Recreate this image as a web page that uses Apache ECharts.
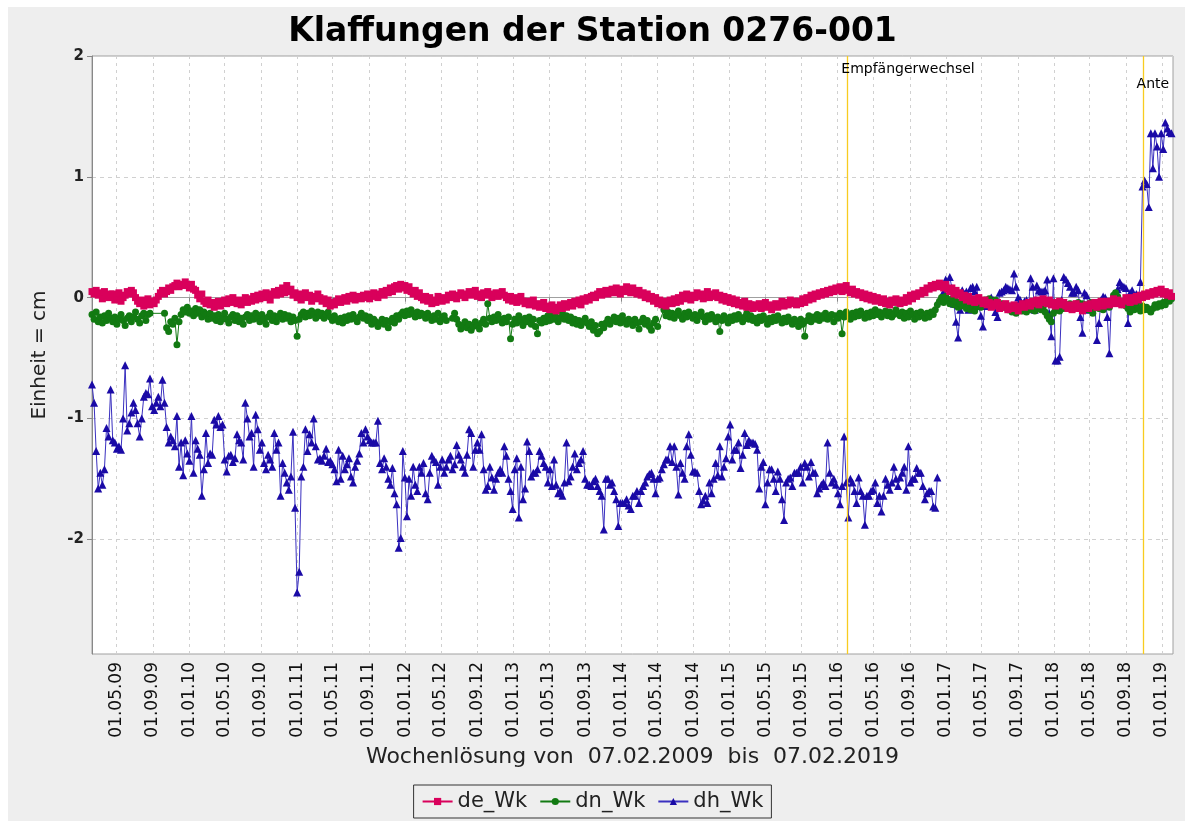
<!DOCTYPE html>
<html>
<head>
<meta charset="utf-8">
<title>Klaffungen der Station 0276-001</title>
<script src="https://cdn.jsdelivr.net/npm/echarts@6/dist/echarts.min.js"></script>
<style>
html, body { margin: 0; padding: 0; background: #ffffff; }
#chart {
  width: 1185px;
  height: 821px;
  background: linear-gradient(#eeeeee, #eeeeee) no-repeat 8px 7px / 1177px 814px, #ffffff;
}
</style>
</head>
<body>
<div id="chart"></div>
<script>
// Zeitraum der Wochenlösungen (ein Wert pro Woche)
const startDate = '2009-02-07'
const endDate = '2019-02-07'

// Ost-Komponente
const deWk = [
  0.05, 0.03, 0.06, 0.02, 0.04, -0.01, 0.05, 0.02, 0.0, 0.03,
  0.03, -0.02, 0.01, 0.04, -0.03, 0.0, 0.02, 0.05, 0.03, 0.06,
  0.04, 0.0, -0.03, -0.05, -0.02, -0.07, -0.04, -0.01, -0.06, -0.03,
  -0.05, -0.02, 0.01, 0.04, 0.06, 0.03, 0.05, 0.08, 0.06, 0.09,
  0.1, 0.12, 0.09, 0.11, 0.1, 0.13, 0.1, 0.08, 0.11, 0.07,
  0.06, 0.02, -0.01, 0.03, -0.03, -0.05, -0.02, -0.06, -0.04, -0.08,
  -0.05, -0.03, -0.07, -0.04, -0.02, -0.05, -0.01, -0.04, 0.0, -0.03,
  -0.05, -0.02, -0.06, -0.03, 0.0, -0.04, -0.01, -0.03, 0.01, -0.02,
  0.02, -0.01, 0.03, 0.0, 0.04, 0.01, -0.02, 0.03, 0.05, 0.02,
  0.06, 0.03, 0.08, 0.04, 0.1, 0.05, 0.07, 0.02, 0.04, 0.0,
  0.03, -0.02, 0.01, 0.04, 0.0, 0.02, -0.03, 0.01, -0.01, 0.03,
  0.0, -0.03, -0.01, -0.05, -0.02, -0.07, -0.04, -0.06, -0.03, -0.01,
  -0.04, -0.02, 0.0, -0.03, 0.01, -0.01, 0.02, -0.02, 0.0, 0.01,
  -0.01, 0.02, 0.0, 0.03, -0.01, 0.01, 0.04, 0.02, 0.0, 0.03,
  0.05, 0.02, 0.06, 0.04, 0.08, 0.05, 0.09, 0.1, 0.07, 0.11,
  0.08, 0.1, 0.06, 0.09, 0.05, 0.03, 0.06, 0.01, 0.04, 0.0,
  -0.02, 0.01, -0.03, 0.0, -0.05, -0.02, -0.04, 0.01, -0.01, -0.03,
  0.0, -0.02, 0.02, 0.0, 0.03, 0.01, -0.01, 0.02, 0.04, 0.02,
  0.0, 0.03, 0.05, 0.02, 0.04, 0.06, 0.01, 0.03, 0.0, 0.04,
  0.02, 0.05, 0.03, 0.0, 0.02, 0.04, 0.01, 0.03, 0.05, 0.02,
  0.0, -0.02, 0.01, -0.03, 0.0, -0.04, -0.02, 0.01, -0.03, -0.05,
  -0.03, -0.06, -0.04, -0.02, -0.07, -0.05, -0.08, -0.06, -0.04, -0.09,
  -0.07, -0.1, -0.06, -0.09, -0.11, -0.08, -0.06, -0.09, -0.05, -0.08,
  -0.06, -0.04, -0.07, -0.03, -0.05, -0.02, -0.06, -0.01, -0.03, 0.0,
  -0.02, 0.01, 0.02, 0.0, 0.03, 0.05, 0.02, 0.04, 0.06, 0.03,
  0.05, 0.07, 0.04, 0.08, 0.06, 0.03, 0.07, 0.05, 0.09, 0.06,
  0.04, 0.08, 0.05, 0.03, 0.06, 0.02, 0.04, 0.0, 0.03, -0.01,
  0.01, -0.03, 0.0, -0.05, -0.02, -0.06, -0.03, -0.07, -0.04, -0.02,
  -0.05, -0.01, -0.04, 0.0, -0.03, 0.02, -0.01, 0.03, 0.01, -0.02,
  0.02, 0.0, 0.04, 0.01, 0.03, -0.01, 0.02, 0.05, 0.0, 0.03,
  0.01, 0.04, 0.0, 0.02, -0.02, 0.01, -0.03, 0.0, -0.04, -0.01,
  -0.05, -0.02, -0.06, -0.04, -0.07, -0.03, -0.08, -0.05, -0.06, -0.09,
  -0.06, -0.08, -0.05, -0.09, -0.07, -0.04, -0.08, -0.06, -0.1, -0.07,
  -0.05, -0.08, -0.06, -0.03, -0.07, -0.04, -0.06, -0.02, -0.05, -0.03,
  -0.06, -0.03, -0.05, -0.01, -0.04, 0.0, -0.02, 0.02, -0.01, 0.03,
  0.01, 0.04, 0.02, 0.05, 0.03, 0.06, 0.04, 0.07, 0.05, 0.08,
  0.06, 0.09, 0.05, 0.08, 0.1, 0.06, 0.04, 0.07, 0.03, 0.05,
  0.02, 0.04, 0.0, 0.03, -0.01, 0.02, -0.02, 0.01, -0.03, 0.0,
  -0.02, -0.04, -0.01, -0.05, -0.03, -0.06, -0.02, -0.04, -0.01, -0.03,
  -0.05, -0.02, -0.04, 0.0, -0.03, 0.02, -0.01, 0.03, 0.01, 0.04,
  0.03, 0.06, 0.04, 0.08, 0.07, 0.1, 0.08, 0.11, 0.09, 0.12,
  0.1, 0.08, 0.11, 0.07, 0.05, 0.08, 0.03, 0.06, 0.02, 0.04,
  0.0, 0.02, -0.02, 0.01, -0.03, -0.01, -0.04, -0.02, 0.0, -0.03,
  -0.05, -0.02, -0.06, -0.04, -0.08, -0.05, -0.07, -0.04, -0.09, -0.06,
  -0.08, -0.05, -0.1, -0.07, -0.09, -0.06, -0.08, -0.11, -0.07, -0.05,
  -0.08, -0.06, -0.04, -0.07, -0.03, -0.05, -0.02, -0.06, -0.04, -0.01,
  -0.03, -0.05, -0.02, -0.06, -0.04, -0.07, -0.05, -0.03, -0.06, -0.04,
  -0.07, -0.09, -0.06, -0.1, -0.08, -0.05, -0.09, -0.07, -0.11, -0.08,
  -0.06, -0.09, -0.05, -0.07, -0.04, -0.08, -0.06, -0.03, -0.07, -0.05,
  -0.03, -0.06, -0.04, -0.01, -0.05, -0.02, -0.04, -0.06, -0.03, 0.0,
  -0.02, -0.04, 0.0, -0.03, 0.01, -0.02, 0.02, 0.0, 0.03, 0.01,
  0.04, 0.02, 0.05, 0.03, 0.06, 0.04, 0.07, 0.03, 0.05, 0.02,
  0.04, 0.01
]

// Nord-Komponente (null = keine Lösung in dieser Woche)
const dnWk = [
  -0.14, -0.18, -0.12, -0.2, -0.16, -0.21, -0.15, -0.19, -0.13, -0.17,
  -0.2, -0.16, -0.22, -0.18, -0.14, -0.19, -0.23, -0.17, -0.15, -0.2,
  -0.16, -0.12, -0.18, -0.21, -0.15, -0.13, -0.19, -0.14, -0.13, null,
  null, null, null, null, null, -0.13, -0.25, -0.28, -0.2, -0.22,
  -0.17, -0.39, -0.2, -0.14, -0.1, -0.12, -0.08, -0.13, -0.11, -0.15,
  -0.09, -0.13, -0.1, -0.16, -0.12, -0.14, -0.18, -0.13, -0.17, -0.15,
  -0.19, -0.14, -0.2, -0.17, -0.13, -0.18, -0.21, -0.16, -0.14, -0.19,
  -0.15, -0.2, -0.17, -0.22, -0.16, -0.14, -0.19, -0.15, -0.18, -0.13,
  -0.17, -0.2, -0.14, -0.18, -0.22, -0.16, -0.13, -0.19, -0.15, -0.2,
  -0.16, -0.13, -0.18, -0.14, -0.17, -0.15, -0.2, -0.16, -0.19, -0.32,
  -0.18, -0.14, -0.12, -0.16, -0.13, -0.15, -0.11, -0.14, -0.17, -0.12,
  -0.15, -0.13, -0.17, -0.14, -0.12, -0.16, -0.19, -0.15, -0.18, -0.2,
  -0.17, -0.21, -0.16, -0.19, -0.15, -0.18, -0.14, -0.17, -0.2, -0.16,
  -0.13, -0.17, -0.15, -0.19, -0.16, -0.22, -0.18, -0.2, -0.24, -0.21,
  -0.18, -0.22, -0.19, -0.25, -0.2, -0.17, -0.21, -0.15, -0.18, -0.14,
  -0.12, -0.15, -0.11, -0.14, -0.1, -0.13, -0.16, -0.12, -0.15, -0.13,
  -0.14, -0.17, -0.13, -0.16, -0.19, -0.15, -0.18, -0.13, -0.2, -0.16,
  -0.15, -0.19, null, null, -0.17, -0.13, -0.18, -0.22, -0.26, -0.23,
  -0.2, -0.25, -0.22, -0.27, -0.24, -0.2, -0.23, -0.26, -0.21, -0.18,
  -0.22, -0.05, -0.17, -0.2, -0.16, -0.19, -0.14, -0.18, -0.21, -0.17,
  -0.2, -0.16, -0.34, -0.22, -0.18, -0.21, -0.15, -0.19, -0.23, -0.17,
  -0.2, -0.16, -0.22, -0.18, -0.24, -0.3, -0.19, -0.21, -0.17, -0.2,
  -0.15, -0.19, -0.14, -0.18, -0.16, -0.2, -0.17, -0.13, -0.18, -0.15,
  -0.19, -0.16, -0.21, -0.18, -0.22, -0.19, -0.23, -0.2, -0.17, -0.21,
  -0.24, -0.2, -0.27, -0.23, -0.3, -0.28, -0.22, -0.25, -0.21, -0.18,
  -0.22, -0.19, -0.16, -0.2, -0.17, -0.21, -0.15, -0.19, -0.22, -0.18,
  -0.2, -0.23, -0.18, -0.21, -0.26, -0.2, -0.17, -0.22, -0.19, -0.24,
  -0.27, -0.21, -0.18, -0.24, null, null, -0.1, -0.15, -0.12, -0.16,
  -0.13, -0.17, -0.14, -0.11, -0.15, -0.18, -0.13, -0.16, -0.12, -0.15,
  -0.17, -0.14, -0.19, -0.15, -0.12, -0.16, -0.2, -0.15, -0.18, -0.14,
  -0.17, -0.2, -0.16, -0.28, -0.19, -0.15, -0.18, -0.21, -0.16, -0.19,
  -0.15, -0.18, -0.14, -0.17, -0.2, -0.16, -0.13, -0.18, -0.15, -0.19,
  -0.17, -0.21, -0.16, -0.19, -0.15, -0.18, -0.22, -0.17, -0.2, -0.16,
  -0.19, -0.15, -0.18, -0.21, -0.17, -0.2, -0.16, -0.19, -0.22, -0.18,
  -0.2, -0.24, -0.18, -0.22, -0.32, -0.19, -0.15, -0.2, -0.16, -0.18,
  -0.14, -0.19, -0.15, -0.17, -0.13, -0.18, -0.16, -0.14, -0.2, -0.15,
  -0.17, -0.13, -0.3, -0.16, -0.12, -0.15, -0.18, -0.13, -0.16, -0.12,
  -0.15, -0.11, -0.14, -0.17, -0.13, -0.16, -0.12, -0.15, -0.1, -0.14,
  -0.12, -0.16, -0.13, -0.11, -0.15, -0.12, -0.16, -0.14, -0.1, -0.13,
  -0.15, -0.12, -0.17, -0.13, -0.16, -0.11, -0.14, -0.18, -0.13, -0.16,
  -0.12, -0.15, -0.17, -0.13, -0.16, -0.12, -0.14, -0.1, -0.06, -0.03,
  0.0, -0.04, 0.01, -0.02, -0.05, -0.01, -0.06, -0.03, -0.08, -0.05,
  -0.07, -0.04, -0.09, -0.06, -0.1, -0.08, -0.11, -0.07, -0.05, -0.08,
  -0.04, -0.02, -0.05, -0.01, -0.03, -0.06, -0.02, -0.04, -0.07, -0.05,
  -0.08, -0.06, -0.1, -0.07, -0.12, -0.09, -0.13, -0.1, -0.08, -0.11,
  -0.09, -0.12, -0.08, -0.1, -0.07, -0.11, -0.09, -0.06, -0.1, -0.08,
  -0.12, -0.15, -0.18, -0.2, -0.13, -0.1, -0.08, -0.11, -0.07, -0.09,
  -0.06, -0.08, -0.05, -0.07, -0.09, -0.06, -0.04, -0.07, -0.05, -0.08,
  -0.06, -0.1, -0.04, -0.13, -0.08, -0.05, -0.09, -0.06, -0.1, -0.07,
  -0.05, -0.08, -0.03, 0.02, 0.04, 0.01, -0.03, -0.06, -0.04, -0.07,
  -0.09, -0.12, -0.08, -0.1, -0.06, -0.09, -0.11, -0.07, -0.1, -0.08,
  -0.1, -0.12, -0.09, -0.06, -0.08, -0.05, -0.07, -0.04, -0.06, -0.02,
  -0.03, -0.01
]

// Höhen-Komponente (null = Sprung nach Empfängerwechsel)
const dhWk = [
  -0.72, -0.87, -1.27, -1.58, -1.45, -1.55, -1.42, -1.08, -1.15, -0.76,
  -1.18, -1.2, -1.25, -1.23, -1.26, -1.0, -0.56, -1.1, -1.04, -0.95,
  -0.87, -0.93, -1.04, -1.15, -1.0, -0.82, -0.79, -0.8, -0.67, -0.9,
  -0.93, -0.87, -0.82, -0.9, -0.68, -0.87, -1.07, -1.2, -1.15, -1.18,
  -1.23, -0.98, -1.4, -1.2, -1.47, -1.18, -1.29, -1.35, -0.98, -1.45,
  -1.18, -1.25, -1.3, -1.64, -1.42, -1.12, -1.37, -1.29, -1.3, -1.01,
  -1.05, -0.98, -1.07, -1.05, -1.34, -1.44, -1.31, -1.3, -1.36, -1.33,
  -1.13, -1.18, -1.2, -1.34, -0.87, -1.0, -1.15, -1.12, -1.4, -0.97,
  -1.09, -1.26, -1.2, -1.37, -1.42, -1.3, -1.34, -1.4, -1.12, -1.26,
  -1.2, -1.64, -1.37, -1.45, -1.53, -1.59, -1.48, -1.11, -1.74, -2.44,
  -2.27, -1.48, -1.4, -1.09, -1.27, -1.13, -1.2, -1.0, -1.23, -1.34,
  -1.33, -1.35, -1.31, -1.25, -1.36, -1.35, -1.38, -1.42, -1.52, -1.26,
  -1.5, -1.31, -1.42, -1.38, -1.33, -1.48, -1.53, -1.4, -1.35, -1.29,
  -1.12, -1.2, -1.09, -1.15, -1.18, -1.2, -1.2, -1.2, -1.02, -1.37,
  -1.42, -1.33, -1.4, -1.5, -1.55, -1.41, -1.62, -1.71, -2.07, -1.99,
  -1.27, -1.49, -1.81, -1.5, -1.64, -1.4, -1.55, -1.6, -1.4, -1.45,
  -1.37, -1.62, -1.67, -1.45, -1.31, -1.34, -1.36, -1.55, -1.4, -1.34,
  -1.45, -1.4, -1.34, -1.31, -1.42, -1.38, -1.22, -1.3, -1.34, -1.4,
  -1.45, -1.3, -1.09, -1.12, -1.4, -1.26, -1.2, -1.26, -1.13, -1.42,
  -1.59, -1.56, -1.4, -1.49, -1.59, -1.5, -1.45, -1.42, -1.45, -1.23,
  -1.31, -1.5, -1.6, -1.75, -1.42, -1.33, -1.82, -1.4, -1.67, -1.58,
  -1.19, -1.27, -1.48, -1.45, -1.45, -1.42, -1.27, -1.31, -1.37, -1.4,
  -1.53, -1.42, -1.56, -1.34, -1.55, -1.62, -1.6, -1.64, -1.53, -1.2,
  -1.52, -1.48, -1.4, -1.29, -1.42, -1.37, -1.34, -1.27, -1.5, -1.55,
  -1.55, -1.56, -1.52, -1.5, -1.56, -1.6, -1.64, -1.92, -1.5, -1.5,
  -1.55, -1.53, -1.6, -1.67, -1.89, -1.7, -1.7, -1.7, -1.67, -1.72,
  -1.75, -1.64, -1.64, -1.6, -1.7, -1.6, -1.56, -1.53, -1.48, -1.46,
  -1.45, -1.5, -1.62, -1.5, -1.49, -1.42, -1.38, -1.34, -1.34, -1.23,
  -1.36, -1.23, -1.4, -1.63, -1.37, -1.45, -1.5, -1.23, -1.13, -1.3,
  -1.44, -1.44, -1.45, -1.6, -1.71, -1.68, -1.64, -1.7, -1.53, -1.62,
  -1.5, -1.37, -1.47, -1.23, -1.48, -1.4, -1.33, -1.15, -1.05, -1.34,
  -1.26, -1.26, -1.2, -1.41, -1.3, -1.12, -1.22, -1.18, -1.2, -1.2,
  -1.21, -1.26, -1.58, -1.4, -1.36, -1.71, -1.53, -1.42, -1.42, -1.5,
  -1.6, -1.44, -1.5, -1.67, -1.84, -1.53, -1.5, -1.49, -1.56, -1.45,
  -1.45, -1.45, -1.4, -1.53, -1.37, -1.4, -1.48, -1.36, -1.45, -1.45,
  -1.62, -1.58, -1.55, -1.53, -1.56, -1.2, -1.45, -1.53, -1.5, -1.55,
  -1.62, -1.71, -1.56, -1.15, -1.53, -1.82, -1.5, -1.53, -1.6, -1.7,
  -1.49, -1.6, -1.64, -1.88, -1.64, -1.64, -1.6, -1.59, -1.53, -1.7,
  -1.64, -1.77, -1.64, -1.5, -1.55, -1.59, -1.53, -1.4, -1.5, -1.56,
  -1.49, -1.45, -1.4, -1.59, -1.23, -1.53, -1.5, -1.5, -1.41, -1.45,
  -1.45, -1.56, -1.67, -1.62, -1.6, -1.6, -1.73, -1.74, -1.49, null,
  0.01, 0.05, 0.15, 0.1, 0.17, 0.08, -0.05, -0.2, -0.33, -0.1,
  0.06, 0.03, 0.05, -0.1, 0.08, 0.09, 0.05, 0.09, -0.07, -0.15,
  -0.24, -0.07, -0.03, -0.02, 0.0, -0.02, -0.12, -0.16, 0.04, 0.05,
  0.06, 0.09, 0.08, 0.07, 0.06, 0.2, 0.09, 0.0, -0.02, -0.07,
  -0.03, -0.02, -0.07, 0.16, 0.09, -0.1, 0.1, 0.06, 0.05, 0.05,
  0.06, 0.15, -0.13, -0.32, 0.16, -0.52, -0.52, -0.49, -0.02, 0.17,
  0.15, 0.12, 0.09, 0.04, 0.04, 0.09, 0.06, -0.16, -0.29, 0.04,
  0.02, -0.1, -0.06, -0.05, -0.05, -0.35, -0.21, -0.02, 0.01, 0.0,
  -0.16, -0.46, -0.02, 0.01, 0.0, 0.07, 0.13, 0.1, 0.09, 0.08,
  -0.21, 0.04, 0.06, 0.01, 0.03, -0.02, 0.13, 0.92, 0.97, 0.94,
  0.75, 1.36, 1.07, 1.36, 1.25, 1.0, 1.36, 1.23, 1.45, 1.4,
  1.37, 1.36
]

// Achsbeschriftungen (alle 4 Monate)
const tickLabels = [
  '01.05.09', '01.09.09',
  '01.01.10', '01.05.10', '01.09.10',
  '01.01.11', '01.05.11', '01.09.11',
  '01.01.12', '01.05.12', '01.09.12',
  '01.01.13', '01.05.13', '01.09.13',
  '01.01.14', '01.05.14', '01.09.14',
  '01.01.15', '01.05.15', '01.09.15',
  '01.01.16', '01.05.16', '01.09.16',
  '01.01.17', '01.05.17', '01.09.17',
  '01.01.18', '01.05.18', '01.09.18',
  '01.01.19'
]
const yTicks = [2, 1, 0, -1, -2]

// Ereignisse an der Station
const eventDates = ['2016-02-01', '2018-10-29']
const eventNames = ['Empfängerwechsel', 'Antennenwechsel']

const DAY = 86400000
function parseIso(s) {
  const p = s.split('-')
  return Date.UTC(+p[0], +p[1] - 1, +p[2])
}
function parseTick(s) {
  const p = s.split('.')
  return Date.UTC(2000 + +p[2], +p[1] - 1, +p[0])
}

const t0 = parseIso(startDate)
const weeks = deWk.map((_, i) => t0 + i * 7 * DAY)
const toPairs = arr => arr.map((v, i) => [weeks[i], v])
const tickValues = tickLabels.map(parseTick)
const labelByValue = {}
tickValues.forEach((v, i) => { labelByValue[v] = tickLabels[i] })

const font = 'DejaVu Sans'
const chart = echarts.init(document.getElementById('chart'))

chart.setOption({
  animation: false,
  title: {
    text: 'Klaffungen der Station 0276-001',
    left: 'center',
    top: 11,
    textStyle: { fontFamily: font, fontSize: 33, fontWeight: 'bold', color: '#000' }
  },
  legend: {
    data: ['de_Wk', 'dn_Wk', 'dh_Wk'],
    left: 'center',
    top: 785,
    padding: [6, 8, 6, 8],
    itemGap: 12,
    itemWidth: 30,
    itemHeight: 9,
    borderColor: '#333',
    borderWidth: 1,
    borderRadius: 0,
    textStyle: { fontFamily: font, fontSize: 21, color: '#222' }
  },
  grid: {
    left: 92,
    right: 12,
    top: 56,
    bottom: 167,
    show: true,
    backgroundColor: '#ffffff',
    borderColor: '#a0a0a0',
    borderWidth: 1
  },
  xAxis: {
    type: 'value',
    min: t0,
    max: parseIso(endDate),
    name: 'Wochenlösung von  07.02.2009  bis  07.02.2019',
    nameLocation: 'middle',
    nameGap: 92,
    nameTextStyle: { fontFamily: font, fontSize: 22, color: '#222' },
    axisLine: { show: true, lineStyle: { color: '#a0a0a0' } },
    axisTick: { show: true, length: 4, customValues: tickValues, lineStyle: { color: '#888' } },
    axisLabel: {
      customValues: tickValues,
      rotate: 90,
      margin: 8,
      fontFamily: font,
      fontSize: 17,
      color: '#111',
      formatter: v => labelByValue[v] || ''
    },
    splitLine: { show: true, lineStyle: { color: '#d0d0d0', type: [3, 4] } }
  },
  yAxis: {
    type: 'value',
    min: -2.95,
    max: 2,
    name: 'Einheit = cm',
    nameLocation: 'middle',
    nameGap: 42,
    nameTextStyle: { fontFamily: font, fontSize: 20, color: '#222' },
    axisLine: { show: true, lineStyle: { color: '#888' } },
    axisTick: { show: true, length: 5, customValues: yTicks, lineStyle: { color: '#888' } },
    axisLabel: {
      customValues: yTicks,
      margin: 8,
      fontFamily: font,
      fontSize: 15,
      fontWeight: 'bold',
      color: '#222'
    },
    splitLine: { show: true, lineStyle: { color: '#d0d0d0', type: [4, 4] } }
  },
  series: [
    {
      name: 'de_Wk',
      type: 'line',
      z: 5,
      data: toPairs(deWk),
      symbol: 'rect',
      symbolSize: 7,
      showAllSymbol: true,
      itemStyle: { color: '#d9005b' },
      lineStyle: { color: '#d9005b', width: 1 }
    },
    {
      name: 'dn_Wk',
      type: 'line',
      z: 4,
      data: toPairs(dnWk),
      connectNulls: true,
      symbol: 'circle',
      symbolSize: 7,
      showAllSymbol: true,
      itemStyle: { color: '#127a12' },
      lineStyle: { color: '#127a12', width: 1 }
    },
    {
      name: 'dh_Wk',
      type: 'line',
      z: 3,
      data: toPairs(dhWk),
      symbol: 'triangle',
      symbolSize: 8,
      showAllSymbol: true,
      itemStyle: { color: '#1a0aa6' },
      lineStyle: { color: '#3a30c0', width: 1 },
      markLine: {
        silent: true,
        symbol: 'none',
        label: { show: false },
        emphasis: { disabled: true },
        lineStyle: { color: '#f8cc20', width: 1.3, type: 'solid', opacity: 1 },
        data: eventDates.map(d => ({ xAxis: parseIso(d) }))
      },
      markPoint: {
        silent: true,
        symbol: 'circle',
        symbolSize: 1,
        itemStyle: { color: 'transparent' },
        data: eventDates.map((d, i) => ({
          coord: [parseIso(d), 2],
          name: eventNames[i],
          label: i === 0
            ? { position: [-5, 7] }
            : { position: [-6, 22], width: 40, overflow: 'truncate', ellipsis: '' }
        })),
        label: {
          show: true,
          formatter: '{b}',
          fontFamily: font,
          fontSize: 14,
          color: '#000'
        }
      }
    }
  ]
})
</script>
</body>
</html>
